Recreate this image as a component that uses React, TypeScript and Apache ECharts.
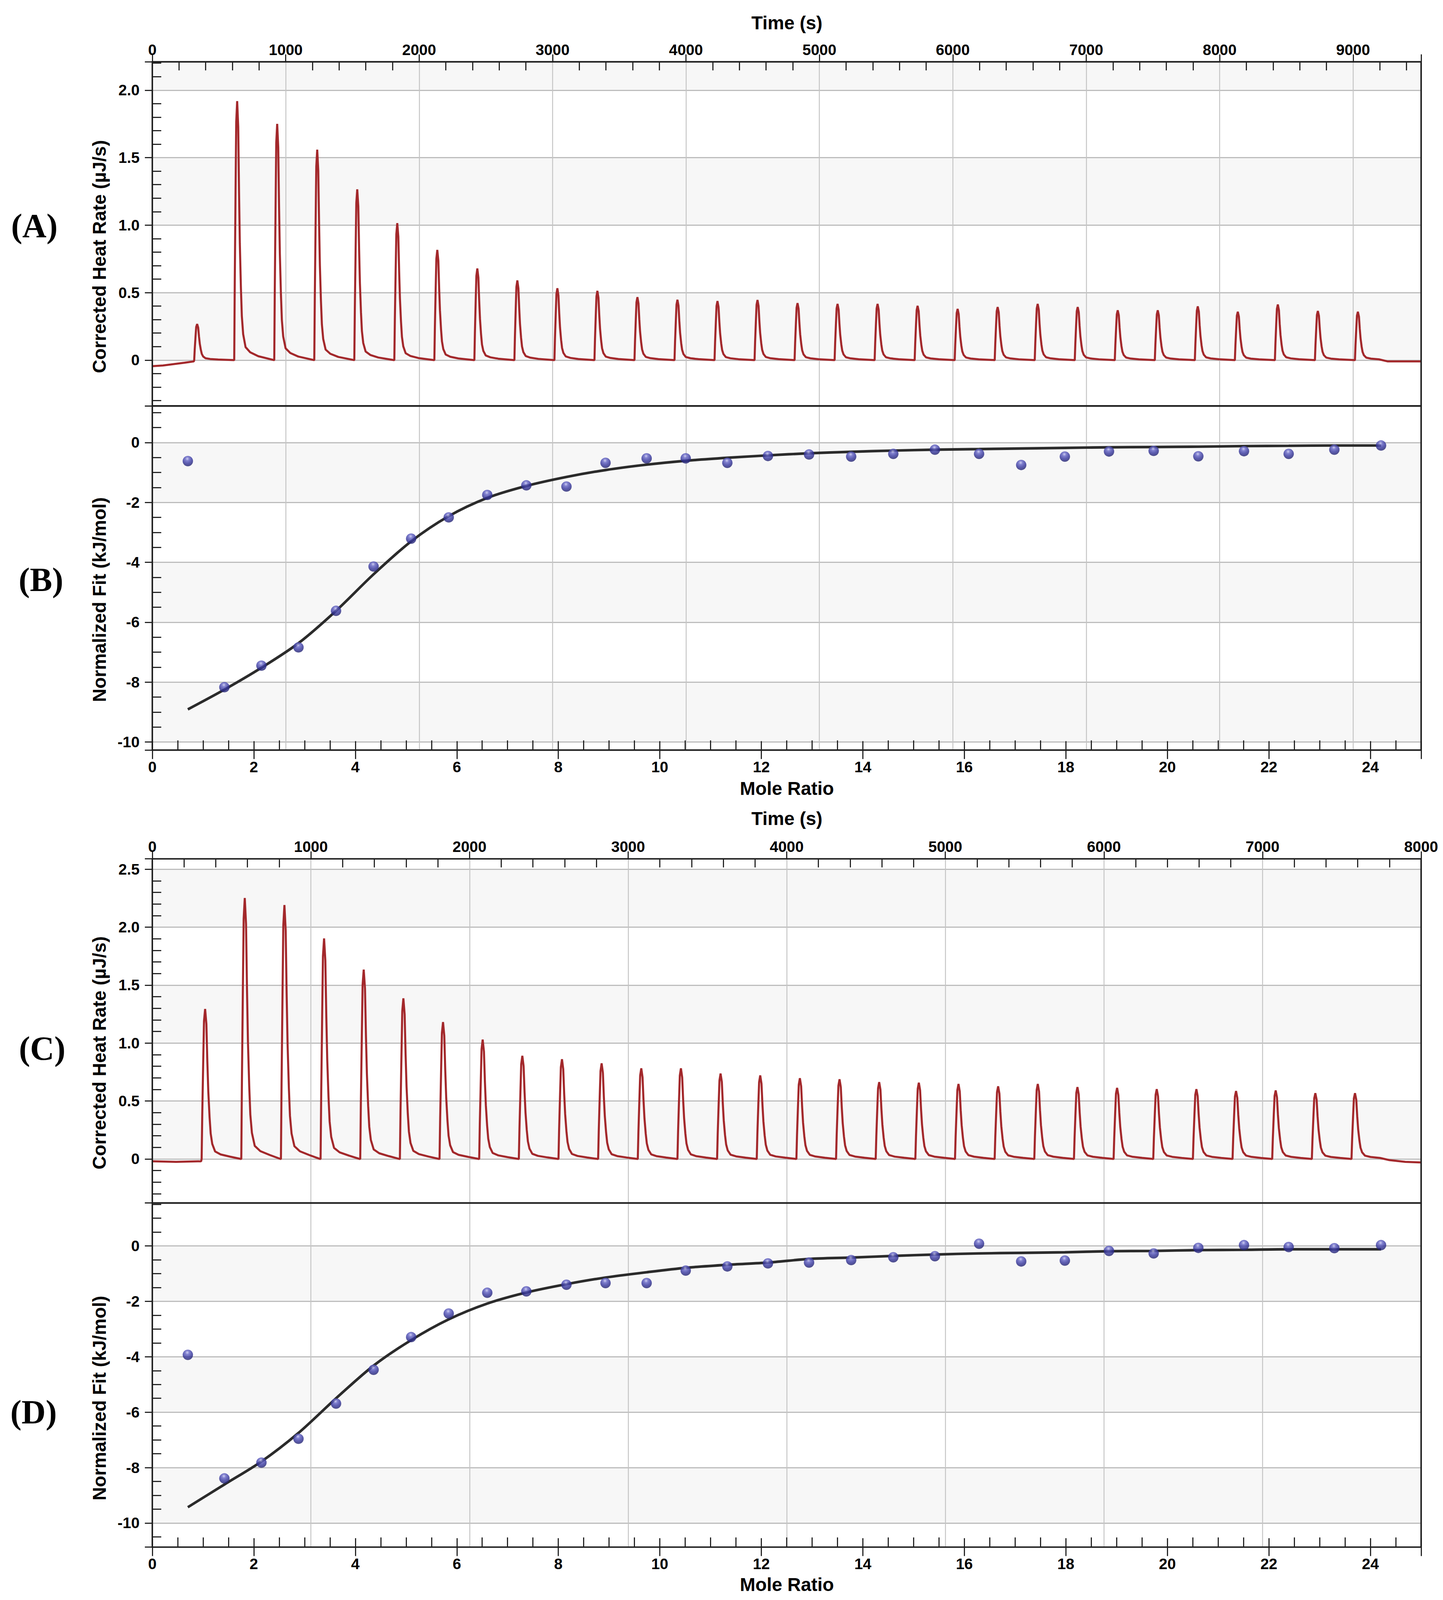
import { useEffect, useRef } from 'react'
import * as echarts from 'echarts'

// injection results (mole ratio is shared by panels B and D)
const moleRatio = [0.7, 1.42, 2.15, 2.88, 3.62, 4.36, 5.1, 5.84, 6.6, 7.37, 8.16, 8.93, 9.74, 10.51, 11.33, 12.13, 12.94, 13.77, 14.6, 15.42, 16.29, 17.12, 17.98, 18.85, 19.73, 20.61, 21.51, 22.39, 23.29, 24.21]
const heatB = [-0.62, -8.17, -7.45, -6.84, -5.62, -4.14, -3.21, -2.5, -1.75, -1.43, -1.47, -0.68, -0.53, -0.53, -0.68, -0.45, -0.4, -0.47, -0.38, -0.24, -0.38, -0.75, -0.47, -0.3, -0.28, -0.46, -0.29, -0.38, -0.24, -0.1]
const fitB = [-8.91, -8.25, -7.52, -6.7, -5.62, -4.4, -3.3, -2.46, -1.85, -1.45, -1.15, -0.92, -0.74, -0.61, -0.51, -0.43, -0.36, -0.31, -0.27, -0.24, -0.22, -0.2, -0.18, -0.16, -0.15, -0.14, -0.12, -0.11, -0.1, -0.1]
const heatD = [-3.93, -8.39, -7.82, -6.96, -5.69, -4.47, -3.29, -2.44, -1.69, -1.64, -1.4, -1.34, -1.34, -0.89, -0.74, -0.63, -0.6, -0.51, -0.41, -0.37, 0.08, -0.56, -0.53, -0.18, -0.27, -0.07, 0.03, -0.04, -0.08, 0.03]
const fitD = [-9.43, -8.61, -7.78, -6.75, -5.5, -4.32, -3.4, -2.65, -2.08, -1.68, -1.38, -1.14, -0.95, -0.79, -0.68, -0.6, -0.47, -0.42, -0.36, -0.31, -0.27, -0.25, -0.23, -0.19, -0.18, -0.15, -0.14, -0.12, -0.12, -0.12]

// raw thermograms: injection start times (s) and peak heights (µJ/s)
const injectA = [314, 614, 914, 1214, 1514, 1814, 2114, 2414, 2714, 3014, 3314, 3614, 3914, 4214, 4514, 4814, 5114, 5414, 5714, 6014, 6314, 6614, 6914, 7214, 7514, 7814, 8114, 8414, 8714, 9014]
const peakA = [0.267, 1.919, 1.75, 1.559, 1.265, 1.015, 0.816, 0.679, 0.59, 0.532, 0.513, 0.466, 0.447, 0.437, 0.445, 0.422, 0.416, 0.416, 0.402, 0.379, 0.393, 0.416, 0.393, 0.369, 0.369, 0.398, 0.358, 0.412, 0.364, 0.358]
const injectC = [311, 561, 811, 1061, 1311, 1561, 1811, 2061, 2311, 2561, 2811, 3061, 3311, 3561, 3811, 4061, 4311, 4561, 4811, 5061, 5311, 5561, 5811, 6061, 6311, 6561, 6811, 7061, 7311, 7561]
const peakC = [1.294, 2.252, 2.191, 1.903, 1.634, 1.386, 1.181, 1.03, 0.89, 0.861, 0.825, 0.782, 0.782, 0.737, 0.721, 0.697, 0.688, 0.663, 0.658, 0.647, 0.627, 0.647, 0.62, 0.613, 0.602, 0.602, 0.586, 0.591, 0.568, 0.568]

// shape of one injection peak: [seconds after start, fraction of height]
const peakShape: [number, number][] = [[0, 0], [4, 0.3], [10, 0.65], [15, 0.92], [22, 1], [30, 0.9], [36, 0.65], [42, 0.45], [50, 0.28], [57, 0.17], [67, 0.1], [85, 0.05], [120, 0.03], [180, 0.015]]

// baseline before the first and after the last injection
const leadA: [number, number][] = [[0, -0.045], [80, -0.04], [160, -0.03], [240, -0.02], [311, -0.01]]
const tailA: [number, number][] = [[9260, -0.01], [9510, -0.01]]
const leadC: [number, number][] = [[0, -0.02], [150, -0.025], [308, -0.02]]
const tailC: [number, number][] = [[7800, -0.01], [7900, -0.025], [8000, -0.03]]

const timeMaxA = 9510
const timeMaxC = 8000

// layout of the reference, in its own pixels (scaled to the viewport below)
const W = 3695
const H = 4296
const LEFT = 390
const PLOT_W = 3249
const PLOT_H = 924
const gridTops = [166, 1090, 2306, 3230]

const RED = '#a3282b'
const INK = '#1e1e1e'
const SANS = 'Liberation Sans, Arial, sans-serif'
const SERIF = 'Liberation Serif, Times New Roman, serif'

function buildTrace(starts: number[], heights: number[], lead: [number, number][], tail: [number, number][]) {
  const pts: [number, number][] = [...lead]
  starts.forEach((s, i) => {
    peakShape.forEach(([dt, f]) => pts.push([s + dt, +(heights[i] * f).toFixed(4)]))
    if (i + 1 < starts.length) pts.push([starts[i + 1] - 3, 0])
  })
  return pts.concat(tail)
}

const heatFmt = (v: number) => (v === 0 ? '0' : v.toFixed(1))
const fitFmt = (v: number) => String(Math.round(v))
const plainFmt = (v: number) => String(v)

export default function App() {
  const chartRef = useRef<HTMLDivElement>(null)

  useEffect(() => {
    if (!chartRef.current) return
    const el = chartRef.current
    const kx = el.clientWidth / W
    const ky = el.clientHeight / H
    const k = Math.min(kx, ky)
    const X = (v: number) => v * kx
    const Y = (v: number) => v * ky
    const S = (v: number) => v * k

    const chart = echarts.init(el, null, { renderer: 'svg' })

    const tickLine = { color: INK, width: S(3) }
    const labelFont = { color: '#000', fontFamily: SANS, fontWeight: 'bold', fontSize: S(41) }
    const noLine = { show: false, onZero: false }

    // major ticks point outwards, minor ticks inwards: a twin axis carries the outer ticks
    const timeAxis = (gridIndex: number, max: number, labelled: boolean) => ({
      type: 'value',
      gridIndex,
      position: 'top',
      min: 0,
      max,
      interval: 1000,
      axisLine: noLine,
      axisTick: { show: false, inside: true },
      minorTick: { show: labelled, splitNumber: 5, length: S(23), lineStyle: tickLine },
      axisLabel: { show: labelled, margin: S(12), showMaxLabel: max % 1000 === 0, formatter: plainFmt, ...labelFont },
      splitLine: { show: true, lineStyle: { color: '#c4c4c4', width: S(2.5) } },
    })
    const timeTwin = (gridIndex: number, max: number) => ({
      type: 'value',
      gridIndex,
      position: 'top',
      min: 0,
      max,
      interval: 1000,
      axisLine: noLine,
      axisTick: { show: true, inside: false, length: S(20), lineStyle: tickLine },
      axisLabel: { show: false },
      splitLine: { show: false },
    })

    const ratioAxis = (gridIndex: number) => ({
      type: 'value',
      gridIndex,
      position: 'bottom',
      min: 0,
      max: 25,
      interval: 2,
      axisLine: noLine,
      axisTick: { inside: true, length: S(24), lineStyle: tickLine },
      minorTick: { show: true, splitNumber: 4, length: S(26), lineStyle: tickLine },
      axisLabel: { margin: S(25), showMaxLabel: false, formatter: plainFmt, ...labelFont },
      splitLine: { show: false },
    })
    const ratioTwin = (gridIndex: number) => ({
      type: 'value',
      gridIndex,
      position: 'bottom',
      min: 0,
      max: 25,
      interval: 2,
      axisLine: noLine,
      axisTick: { show: true, inside: false, length: S(24), lineStyle: tickLine },
      axisLabel: { show: false },
      splitLine: { show: false },
    })

    const valueAxis = (gridIndex: number, min: number, max: number, step: number, minor: number, fmt: (v: number) => string) => ({
      type: 'value',
      gridIndex,
      position: 'left',
      min,
      max,
      minInterval: step,
      maxInterval: step,
      axisLine: noLine,
      axisTick: { show: false, inside: true },
      minorTick: { show: true, splitNumber: minor, length: S(24), lineStyle: tickLine },
      axisLabel: { margin: S(34), showMinLabel: false, showMaxLabel: false, formatter: fmt, ...labelFont },
      splitLine: { show: true, lineStyle: { color: '#bdbdbd', width: S(3) } },
      splitArea: { show: true, areaStyle: { color: ['#ffffff', '#f7f7f7'] } },
    })
    const valueTwin = (gridIndex: number, min: number, max: number, step: number) => ({
      type: 'value',
      gridIndex,
      position: 'left',
      min,
      max,
      minInterval: step,
      maxInterval: step,
      axisLine: noLine,
      axisTick: { show: true, inside: false, length: S(20), lineStyle: tickLine },
      axisLabel: { show: false },
      splitLine: { show: false },
      splitArea: { show: false },
    })

    const sphere = {
      type: 'radial',
      x: 0.45,
      y: 0.28,
      r: 0.75,
      colorStops: [
        { offset: 0, color: '#c4c4f0' },
        { offset: 0.25, color: '#6262c4' },
        { offset: 0.6, color: '#34349c' },
        { offset: 1, color: '#1f1f68' },
      ],
    }

    const label = (text: string, x: number, y: number, size: number, family: string, rotate = 0) => ({
      type: 'text',
      x: X(x),
      y: Y(y),
      rotation: rotate,
      style: { text, fill: '#000', fontSize: S(size), fontWeight: 'bold', fontFamily: family, align: 'center', verticalAlign: 'middle' },
    })

    const scatter = (ys: number[]) => moleRatio.map((x, i) => [x, ys[i]])
    const fitLine = (xi: number, yi: number, ys: number[]) => ({
      type: 'line',
      xAxisIndex: xi,
      yAxisIndex: yi,
      data: scatter(ys),
      smooth: 0.3,
      showSymbol: false,
      symbol: 'none',
      lineStyle: { color: '#2b2b2b', width: S(7) },
      z: 3,
    })
    const points = (xi: number, yi: number, ys: number[]) => ({
      type: 'scatter',
      xAxisIndex: xi,
      yAxisIndex: yi,
      data: scatter(ys),
      symbolSize: S(28),
      itemStyle: { color: sphere },
      z: 4,
    })
    const trace = (xi: number, yi: number, data: [number, number][]) => ({
      type: 'line',
      xAxisIndex: xi,
      yAxisIndex: yi,
      data,
      showSymbol: false,
      symbol: 'none',
      lineStyle: { color: RED, width: S(5.5) },
      z: 3,
    })

    chart.setOption({
      animation: false,
      backgroundColor: '#ffffff',
      grid: gridTops.map((top) => ({
        left: X(LEFT),
        top: Y(top),
        width: X(PLOT_W),
        height: Y(PLOT_H),
        show: true,
        borderColor: INK,
        borderWidth: S(4),
        backgroundColor: 'transparent',
        containLabel: false,
        outerBoundsMode: 'none',
        z: 10,
      })),
      xAxis: [
        timeAxis(0, timeMaxA, true),
        ratioAxis(1),
        timeAxis(1, timeMaxA, false),
        timeAxis(2, timeMaxC, true),
        ratioAxis(3),
        timeAxis(3, timeMaxC, false),
        timeTwin(0, timeMaxA),
        ratioTwin(1),
        timeTwin(2, timeMaxC),
        ratioTwin(3),
      ],
      yAxis: [
        valueAxis(0, -0.34, 2.21, 0.5, 5, heatFmt),
        valueAxis(1, -10.27, 1.22, 2, 4, fitFmt),
        valueAxis(2, -0.38, 2.59, 0.5, 5, heatFmt),
        valueAxis(3, -10.87, 1.55, 2, 4, fitFmt),
        valueTwin(0, -0.34, 2.21, 0.5),
        valueTwin(1, -10.27, 1.22, 2),
        valueTwin(2, -0.38, 2.59, 0.5),
        valueTwin(3, -10.87, 1.55, 2),
      ],
      series: [
        trace(0, 0, buildTrace(injectA, peakA, leadA, tailA)),
        fitLine(1, 1, fitB),
        points(1, 1, heatB),
        trace(3, 2, buildTrace(injectC, peakC, leadC, tailC)),
        fitLine(4, 3, fitD),
        points(4, 3, heatD),
      ],
      graphic: [
        label('Time (s)', 2015, 61, 50, SANS),
        label('Time (s)', 2015, 2198, 50, SANS),
        label('Mole Ratio', 2015, 2117, 50, SANS),
        label('Mole Ratio', 2015, 4255, 50, SANS),
        label('Corrected Heat Rate (µJ/s)', 254, 689, 50, SANS, Math.PI / 2),
        label('Normalized Fit (kJ/mol)', 254, 1610, 50, SANS, Math.PI / 2),
        label('Corrected Heat Rate (µJ/s)', 254, 2827, 50, SANS, Math.PI / 2),
        label('Normalized Fit (kJ/mol)', 254, 3754, 50, SANS, Math.PI / 2),
        label('(A)', 88, 607, 90, SERIF),
        label('(B)', 105, 1557, 90, SERIF),
        label('(C)', 108, 2816, 90, SERIF),
        label('(D)', 86, 3792, 90, SERIF),
      ],
    })

    return () => {
      chart.dispose()
    }
  }, [])

  return (
    <div
      ref={chartRef}
      style={{ position: 'fixed', left: 0, top: 0, width: '100vw', height: '100vh', background: '#fff' }}
    ></div>
  )
}
